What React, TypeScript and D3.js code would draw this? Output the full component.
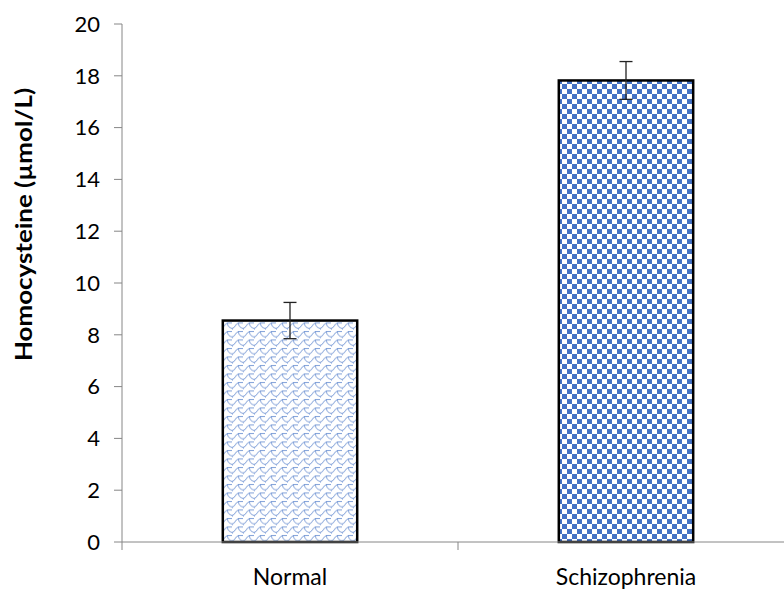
import React from 'react';
import * as d3 from 'd3';

const categories = ['Normal', 'Schizophrenia'];
const values = [8.55, 17.82];
const errors = [0.7, 0.73];
const yTicks = [0, 2, 4, 6, 8, 10, 12, 14, 16, 18, 20];
const patterns = ['shingle', 'checker'];

const W = 784;
const H = 591;
const margin = { top: 24, right: -10, bottom: 49, left: 122 };

export default function App() {
  const innerW = W - margin.left - margin.right;
  const innerH = H - margin.top - margin.bottom;

  const x = d3.scaleBand().domain(categories).range([0, innerW]).paddingInner(0.6).paddingOuter(0.3);
  const y = d3.scaleLinear().domain([0, 20]).range([innerH, 0]);
  const band = innerW / categories.length;

  const font = 'Lato, "Open Sans", sans-serif';
  const blue = '#4472C4';
  const axisColor = '#868686';

  return (
    <svg width={W} height={H} style={{ position: 'absolute', left: 0, top: 0, background: '#fff' }}>
      <defs>
        <pattern id="checker" width={10} height={10} patternUnits="userSpaceOnUse">
          <rect width={10} height={10} fill="#fff" />
          <rect x={0} y={0} width={5} height={5} fill={blue} />
          <rect x={5} y={5} width={5} height={5} fill={blue} />
        </pattern>
        <pattern id="shingle" width={11} height={8.5} patternUnits="userSpaceOnUse">
          <rect width={11} height={8.5} fill="#fff" />
          <path
            d="M0,7 C3,7 3.5,2 6.5,1.5 L11,1.5 M6.5,1.5 C6.5,4 7.5,6 11,7 M0,7 L0,8.5"
            fill="none"
            stroke={blue}
            strokeWidth={0.9}
            opacity={0.8}
          />
        </pattern>
      </defs>
      <g transform={`translate(${margin.left},${margin.top})`}>
        {/* y axis */}
        <line x1={0} x2={0} y1={0} y2={innerH} stroke={axisColor} strokeWidth={1} />
        {yTicks.map(t => (
          <g key={t} transform={`translate(0,${y(t)})`}>
            <line x1={-8} x2={0} stroke={axisColor} strokeWidth={1} />
            <text x={-22} dy="0.35em" textAnchor="end" fontFamily={font} fontSize={22} fill="#000">
              {t}
            </text>
          </g>
        ))}
        {/* bars */}
        {categories.map((c, i) => (
          <g key={c}>
            <rect
              x={x(c)}
              y={y(values[i])}
              width={x.bandwidth()}
              height={y(0) - y(values[i])}
              fill={`url(#${patterns[i]})`}
              stroke="#000"
              strokeWidth={2.5}
            />
            <g stroke="#222" strokeWidth={1.3}>
              <line
                x1={x(c)! + x.bandwidth() / 2}
                x2={x(c)! + x.bandwidth() / 2}
                y1={y(values[i] + errors[i])}
                y2={y(values[i] - errors[i])}
              />
              <line
                x1={x(c)! + x.bandwidth() / 2 - 6.5}
                x2={x(c)! + x.bandwidth() / 2 + 6.5}
                y1={y(values[i] + errors[i])}
                y2={y(values[i] + errors[i])}
              />
              <line
                x1={x(c)! + x.bandwidth() / 2 - 6.5}
                x2={x(c)! + x.bandwidth() / 2 + 6.5}
                y1={y(values[i] - errors[i])}
                y2={y(values[i] - errors[i])}
              />
            </g>
            <text
              x={x(c)! + x.bandwidth() / 2}
              y={innerH + 35}
              dy="0.35em"
              textAnchor="middle"
              fontFamily={font}
              fontSize={23}
              fill="#000"
            >
              {c}
            </text>
          </g>
        ))}
        {/* x axis */}
        <line x1={0} x2={innerW} y1={innerH} y2={innerH} stroke={axisColor} strokeWidth={1} />
        {d3.range(categories.length + 1).map(i => (
          <line key={i} x1={i * band} x2={i * band} y1={innerH} y2={innerH + 8} stroke={axisColor} strokeWidth={1} />
        ))}
      </g>
      <text
        transform={`translate(24,224.5) rotate(-90)`}
        textAnchor="middle"
        dy="0.35em"
        fontFamily={font}
        fontWeight="bold"
        fontSize={23}
        textLength={273}
        lengthAdjust="spacingAndGlyphs"
        fill="#000"
      >
        Homocysteine (µmol/L)
      </text>
    </svg>
  );
}
